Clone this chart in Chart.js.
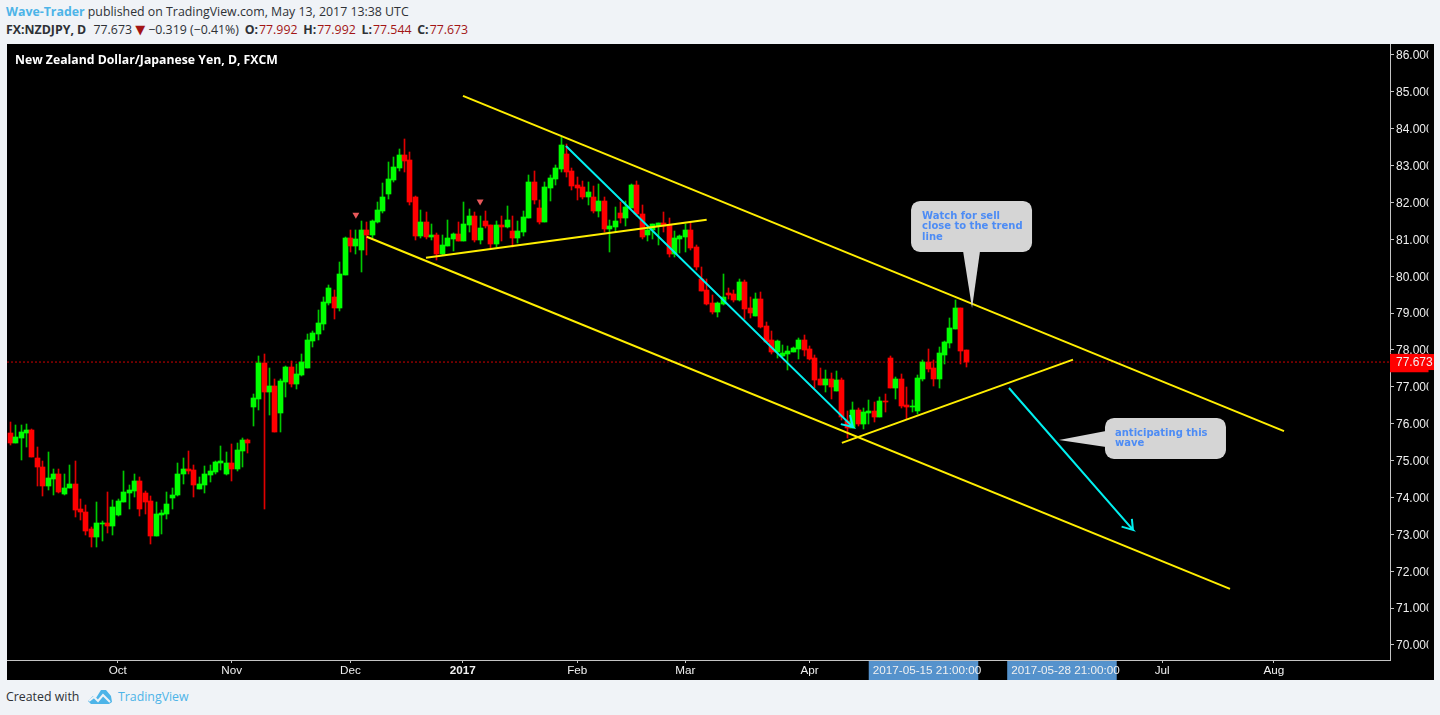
<!DOCTYPE html>
<html>
<head>
<meta charset="utf-8">
<title>NZDJPY</title>
<script src="https://cdn.jsdelivr.net/npm/chart.js@4/dist/chart.umd.js"></script>
<style>
    body { margin: 0; width: 1440px; height: 715px; overflow: hidden; background: #f0f3f7; font-family: "Open Sans", sans-serif; color: #2e3136; position: relative; }
    .line { position: absolute; left: 6px; font-size: 12.35px; white-space: nowrap; }
    .blue { color: #4db4e8; }
    .sym { font-weight: 700; margin-right: 4px; }
    .key { font-weight: 700; margin-left: 2.5px; margin-right: 1px; }
    .val { color: #a31515; }
    .down { color: #a31515; font-family: "DejaVu Sans"; font-size: 13px; line-height: 0; margin-right: 3px; }
    #chart { position: absolute; left: 7px; top: 44px; background: #000; }
    #logo { position: absolute; left: 87px; top: 688px; }
</style>
</head>
<body>
<div class="line" style="top:3px"><b class="blue">Wave-Trader</b> published on TradingView.com, May 13, 2017 13:38 UTC</div>
<div class="line" style="top:21px"><span class="sym">FX:NZDJPY, D</span> 77.673 <span class="down">&#9660;</span>&minus;0.319 (&minus;0.41%) <span class="key">O:</span><span class="val">77.992</span> <span class="key">H:</span><span class="val">77.992</span> <span class="key">L:</span><span class="val">77.544</span> <span class="key">C:</span><span class="val">77.673</span></div>
<canvas id="chart" width="1427" height="636"></canvas>
<div class="line" style="top:688px;left:6px">Created with</div>
<svg id="logo" width="26" height="18" viewBox="0 0 26 18"><path fill="#4db4e8" d="M1 13 L6 8 L9 10 L14 2 L19 2 L24 8 L25 14 L22 16 L4 16 Z"/><path fill="none" stroke="#f0f3f7" stroke-width="2" d="M2 13 L7 9 L11 13 L16 7 L23 14"/></svg>
<div class="line blue" style="top:688px;left:118px">TradingView</div>

<script>
//! ==================== Data ==========================================
const opens = [
    75.74,75.48,75.61,75.75,75.83,75.06,74.84,74.31,74.50,74.63,74.09,74.26,74.36,73.68,73.62,73.14,72.93,73.27,73.30,73.23,
    73.52,73.87,74.12,74.17,74.44,74.11,73.90,72.95,73.52,73.55,73.99,74.06,74.64,74.76,74.74,74.23,74.34,74.61,74.69,74.93,
    74.64,74.93,74.77,75.26,75.55,76.45,76.67,77.64,76.87,77.01,76.29,77.14,77.53,77.08,77.32,77.51,78.25,78.44,78.71,79.28,
    79.43,79.14,80.04,81.03,80.82,80.72,81.25,81.11,81.47,81.77,82.23,82.61,82.94,83.28,83.15,82.14,81.10,81.46,81.07,81.11,
    80.60,80.82,81.00,81.14,80.96,81.39,81.63,80.99,81.50,81.38,80.88,81.38,81.33,81.22,81.04,81.20,81.58,82.56,81.85,81.47,
    82.40,82.64,82.91,83.32,82.85,82.48,82.42,82.15,82.15,81.77,82.04,81.28,81.34,81.72,81.58,81.85,82.48,81.69,81.12,81.26,
    81.36,81.45,81.39,80.61,81.01,81.07,81.26,80.79,79.92,79.63,79.28,79.03,79.25,79.55,79.52,79.36,79.85,79.14,78.93,79.39,
    78.66,78.28,77.95,77.84,77.90,77.95,78.03,78.28,78.03,77.79,77.22,77.05,77.22,76.89,77.19,76.08,75.89,76.38,76.00,76.30,
    76.35,76.19,76.62,77.79,76.97,77.22,76.51,76.46,76.35,77.22,77.68,77.52,77.22,77.87,78.19,78.57,79.14,77.99
];
const highs = [
    76.04,75.97,75.97,75.99,75.85,75.37,74.99,75.23,74.76,74.76,74.63,74.88,74.99,73.96,73.80,73.19,73.87,73.35,74.14,73.92,
    73.95,74.72,74.34,74.65,74.55,74.17,74.03,73.87,73.65,74.14,74.27,74.93,75.07,75.26,74.87,74.55,74.85,74.87,74.98,75.40,
    75.23,75.45,75.48,75.61,75.58,76.81,77.84,77.89,77.51,77.21,77.20,77.57,77.69,77.62,77.89,78.43,78.51,79.08,79.43,79.77,
    79.63,80.39,81.06,81.26,81.26,81.49,81.46,81.53,82.01,82.52,83.10,83.24,83.45,83.73,83.37,82.18,81.80,81.75,81.42,81.17,
    81.11,81.53,81.17,81.46,82.02,81.83,81.74,81.64,81.77,81.39,81.50,81.64,81.91,81.63,81.50,81.77,82.74,82.85,82.07,82.56,
    82.74,83.02,83.77,83.59,82.94,82.69,82.59,82.56,82.45,82.51,82.15,81.53,81.88,82.02,82.04,82.51,82.59,81.94,81.34,81.42,
    81.45,81.75,81.58,81.23,81.12,81.42,81.45,80.85,80.24,79.92,79.50,79.31,80.07,79.69,79.63,79.93,79.90,79.44,79.55,79.58,
    78.76,78.52,78.28,78.14,78.11,78.09,78.33,78.41,78.11,77.87,77.52,77.46,77.38,77.43,77.24,76.35,76.59,76.43,76.43,76.65,
    76.59,76.73,76.81,77.84,77.27,77.35,77.00,76.65,77.33,77.73,78.03,77.73,78.09,78.25,78.87,79.36,79.14,77.99
];
const lows = [
    75.42,75.47,75.02,75.37,75.09,74.30,74.04,74.19,74.06,74.11,74.08,74.26,73.46,73.39,72.97,72.65,72.67,72.81,73.03,72.97,
    73.50,73.87,73.68,74.00,73.50,73.54,72.74,72.95,73.00,73.43,73.68,74.04,74.37,74.65,74.01,74.22,74.12,74.42,74.63,74.74,
    74.60,74.45,74.71,74.82,75.21,75.93,76.37,73.69,76.24,75.77,75.78,76.73,77.00,76.94,77.30,77.51,78.08,78.27,78.54,79.22,
    78.84,79.06,80.04,80.66,80.60,80.12,80.58,81.04,81.45,81.72,82.10,82.55,82.86,82.83,81.94,80.99,81.03,81.00,80.99,80.44,
    80.58,80.82,80.68,80.96,80.96,81.20,80.94,80.88,81.32,80.77,80.79,80.95,81.32,80.79,80.90,81.10,81.58,81.96,81.42,81.46,
    82.04,82.48,82.84,82.70,82.34,82.07,82.10,81.94,81.71,81.61,81.20,80.66,81.21,81.44,81.36,81.84,81.64,81.01,80.95,81.01,
    80.84,81.20,80.53,80.53,80.62,80.66,80.71,80.17,79.60,79.22,78.97,78.90,79.23,79.39,79.31,79.33,78.85,78.87,78.93,78.60,
    78.22,77.90,77.79,77.82,77.46,77.95,77.76,77.84,77.73,76.97,77.05,76.86,76.67,76.89,76.11,75.62,75.89,75.94,75.86,76.00,
    76.05,76.18,76.32,76.97,76.67,76.43,76.13,76.32,76.27,77.16,77.41,77.03,76.97,77.62,78.06,78.57,77.62,77.54
];
const closes = [
    75.48,75.63,75.77,75.83,75.10,74.83,74.31,74.52,74.63,74.15,74.27,74.36,73.66,73.61,73.09,72.93,73.30,73.31,73.24,73.73,
    73.90,74.14,74.19,74.44,73.69,73.87,72.96,73.54,73.58,73.81,74.08,74.65,74.76,74.72,74.34,74.36,74.63,74.71,74.95,74.98,
    74.93,74.77,75.28,75.55,75.48,76.69,77.64,76.87,77.01,75.78,77.15,77.53,77.09,77.34,77.67,78.27,78.46,78.73,79.30,79.68,
    79.14,80.06,81.03,80.82,81.00,81.25,81.11,81.49,81.79,82.14,82.63,82.96,83.28,83.13,82.02,81.10,81.46,81.07,81.11,80.60,
    80.84,81.03,81.14,80.96,81.41,81.63,80.99,81.30,81.36,80.88,81.38,81.34,81.53,81.04,81.22,81.60,82.56,82.07,81.47,82.41,
    82.66,82.94,83.56,82.83,82.45,82.40,82.15,82.29,81.77,82.04,81.28,81.36,81.50,81.58,81.88,82.48,81.69,81.07,81.26,81.42,
    81.45,81.36,80.61,81.04,81.10,81.26,80.77,80.25,79.60,79.25,79.03,79.28,79.44,79.50,79.36,79.85,79.12,79.01,79.39,78.63,
    78.22,77.95,78.25,77.92,77.98,78.06,78.28,78.00,77.76,77.19,77.05,77.22,77.00,77.19,76.19,75.89,76.38,76.00,76.32,76.35,
    76.19,76.62,76.58,76.97,77.22,76.49,76.46,76.49,77.24,77.68,77.49,77.22,77.92,78.22,78.60,79.14,77.98,77.67
];

const priceTicks = [70,71,72,73,74,75,76,77,78,79,80,81,82,83,84,85,86];
const lastPrice = 77.673;

// bar number of every label on the time axis
const timeTicks = [19.9, 41, 63, 83.8, 105, 125, 148, 169.76, 195.4, 213.3, 234];
const timeLabels = ["Oct", "Nov", "Dec", "2017", "Feb", "Mar", "Apr", "2017-05-15 21:00:00", "2017-05-28 21:00:00", "Jul", "Aug"];

// trend lines as [bar number, price]
const upperChannel = [[83.83, 84.89], [235.87, 75.80]];
const lowerChannel = [[66.0, 81.07], [225.87, 71.52]];
const flatSupport = [[76.98, 80.50], [128.96, 81.53]];
const risingSupport = [[154.0, 75.48], [196.8, 77.74]];
const downArrow = [[102.9, 83.53], [156.05, 75.91], [153.8, 75.99], [156.05, 75.91], [155.5, 76.24]];
const waveArrow = [[184.94, 76.97], [207.9, 73.12], [205.8, 73.21], [207.9, 73.12], [207.7, 73.42]];
const signalMarks = [[64, 81.67], [87, 82.03]];

const notes = [
    { lines: ["Watch for sell", "close to the trend", "line"], tip: [178.1, 79.14] },
    { lines: ["anticipating this", "wave"], tip: [194.2, 75.56] }
];

//! ==================== Settings ======================================
const GREEN = "#00ff00";
const RED = "#ff0000";
const YELLOW = "#ffee00";
const CYAN = "#00f0f0";
const AXIS = "#c4c4c4";

const xMin = -0.61;
const xMax = 255.5;
const yMax = 86.298;
const yMin = 69.593;

function toPoints(list) {
    return list.map(p => ({ x: p[0], y: p[1] }));
}

function lineSet(list, color) {
    return { type: "line", data: toPoints(list), borderColor: color, borderWidth: 2, pointRadius: 0, tension: 0, order: 1 };
}

const barColors = closes.map((c, i) => c >= opens[i] ? GREEN : RED);
const wickColors = closes.map((c, i) => c >= opens[i] ? "#00c800" : "#e00000");

//! ==================== Plugins =======================================
// snap candles to whole pixels so they stay crisp like the original
const snapBars = {
    id: "snapBars",
    afterDatasetsUpdate(chart) {
        chart.data.datasets.forEach((set, n) => {
            if (set.type === "line") return;
            chart.getDatasetMeta(n).data.forEach(bar => {
                bar.x = Math.floor(bar.x) + 0.5;
                bar.y = Math.round(bar.y);
                bar.base = Math.round(bar.base);
            });
        });
    }
};

function roundBox(ctx, x, y, w, h, r) {
    ctx.beginPath();
    ctx.roundRect(x, y, w, h, r);
    ctx.fill();
}

function drawNote(ctx, lines, px, py) {
    ctx.fillStyle = "#4d8cf5";
    ctx.font = "bold 10px 'DejaVu Sans'";
    ctx.textBaseline = "middle";
    lines.forEach((t, n) => ctx.fillText(t, px, py + n * 10.5));
}

const noteBoxes = {
    id: "noteBoxes",
    afterDatasetsDraw(chart) {
        const { ctx, scales: { x, y } } = chart;
        ctx.save();

        ctx.fillStyle = "#fff";
        ctx.font = "700 12.25px 'Open Sans'";
        ctx.textBaseline = "middle";
        ctx.fillText("New Zealand Dollar/Japanese Yen, D, FXCM", 8, 17);

        // the price labels get cut off at the right in the original
        ctx.fillStyle = "#000";
        const rowY = y.getPixelForValue(lastPrice);
        ctx.fillRect(1421.5, 0, 6, rowY - 8);
        ctx.fillRect(1421.5, rowY + 8, 6, 636);

        ctx.fillStyle = "#d5d5d5";
        // first note hangs above its tip, the second sits right of it
        let tx = x.getPixelForValue(notes[0].tip[0]);
        let ty = y.getPixelForValue(notes[0].tip[1]);
        roundBox(ctx, tx - 61, ty - 107, 121, 51, 9);
        ctx.beginPath();
        ctx.moveTo(tx - 9, ty - 57);
        ctx.lineTo(tx + 8, ty - 57);
        ctx.lineTo(tx, ty);
        ctx.fill();
        drawNote(ctx, notes[0].lines, tx - 50, ty - 92);

        tx = x.getPixelForValue(notes[1].tip[0]);
        ty = y.getPixelForValue(notes[1].tip[1]);
        ctx.fillStyle = "#d5d5d5";
        roundBox(ctx, tx + 46, ty - 22, 121, 41, 9);
        ctx.beginPath();
        ctx.moveTo(tx + 47, ty - 9);
        ctx.lineTo(tx + 47, ty + 7);
        ctx.lineTo(tx, ty);
        ctx.fill();
        drawNote(ctx, notes[1].lines, tx + 56, ty - 7);

        ctx.restore();
    }
};

//! ==================== Chart =========================================
function isMarked(tick) {
    return tick && tick.label && tick.label.length > 6;
}

new Chart(document.getElementById("chart"), {
    type: "bar",
    data: {
        datasets: [
            lineSet(upperChannel, YELLOW),
            lineSet(lowerChannel, YELLOW),
            lineSet(flatSupport, YELLOW),
            lineSet(risingSupport, YELLOW),
            lineSet(downArrow, CYAN),
            lineSet(waveArrow, CYAN),
            {
                type: "line",
                data: [{ x: xMin, y: lastPrice }, { x: xMax, y: lastPrice }],
                borderColor: "#d00000",
                borderWidth: 1,
                borderDash: [2, 2],
                pointRadius: 0,
                order: 4
            },
            {
                type: "line",
                data: toPoints(signalMarks),
                showLine: false,
                pointStyle: "triangle",
                rotation: 180,
                pointRotation: 180,
                pointRadius: 4,
                pointBackgroundColor: "#e8585a",
                pointBorderWidth: 0,
                order: 1
            },
            {
                data: opens.map((o, i) => ({ x: i, y: [o, closes[i]] })),
                backgroundColor: barColors,
                barThickness: 5,
                grouped: false,
                order: 2
            },
            {
                data: lows.map((l, i) => ({ x: i, y: [l, highs[i]] })),
                backgroundColor: wickColors,
                barThickness: 1,
                grouped: false,
                order: 3
            }
        ]
    },
    options: {
        responsive: false,
        animation: false,
        layout: { padding: 0, autoPadding: false },
        plugins: { legend: { display: false }, tooltip: { enabled: false } },
        scales: {
            x: {
                type: "linear",
                offset: false,
                min: xMin,
                max: xMax,
                grid: { offset: false, drawOnChartArea: false, tickLength: 3, tickColor: AXIS },
                border: { color: AXIS, width: 1 },
                afterBuildTicks: s => { s.ticks = timeTicks.map(v => ({ value: v })); },
                afterFit: s => { s.height = 20; s.paddingLeft = 0; s.paddingRight = 0; },
                ticks: {
                    autoSkip: false,
                    maxRotation: 0,
                    padding: 1,
                    color: "#f0f0f0",
                    font: ctx => ({ family: "'Liberation Sans'", size: 11.7, weight: ctx.tick && ctx.tick.label === "2017" ? "bold" : "normal" }),
                    showLabelBackdrop: ctx => isMarked(ctx.tick),
                    backdropColor: "#5592cc",
                    backdropPadding: { left: 4, right: -3, top: 3, bottom: 3 },
                    callback: (v, i) => timeLabels[i]
                }
            },
            y: {
                position: "right",
                min: yMin,
                max: yMax,
                grid: { drawOnChartArea: false, tickLength: 4, tickColor: AXIS },
                border: { color: AXIS, width: 1 },
                afterBuildTicks: s => { s.ticks = priceTicks.concat(lastPrice).map(v => ({ value: v })); },
                afterFit: s => { s.width = 44; s.paddingTop = 0; s.paddingBottom = 0; },
                ticks: {
                    autoSkip: false,
                    padding: 2,
                    labelOffset: 1,
                    color: "#f0f0f0",
                    font: { family: "'Liberation Sans'", size: 12 },
                    showLabelBackdrop: ctx => ctx.tick && ctx.tick.value === lastPrice,
                    backdropColor: "#ff0000",
                    backdropPadding: { left: 6, right: 4, top: 2, bottom: 2 },
                    callback: v => v.toFixed(3)
                }
            }
        }
    },
    plugins: [snapBars, noteBoxes]
});
</script>
</body>
</html>
